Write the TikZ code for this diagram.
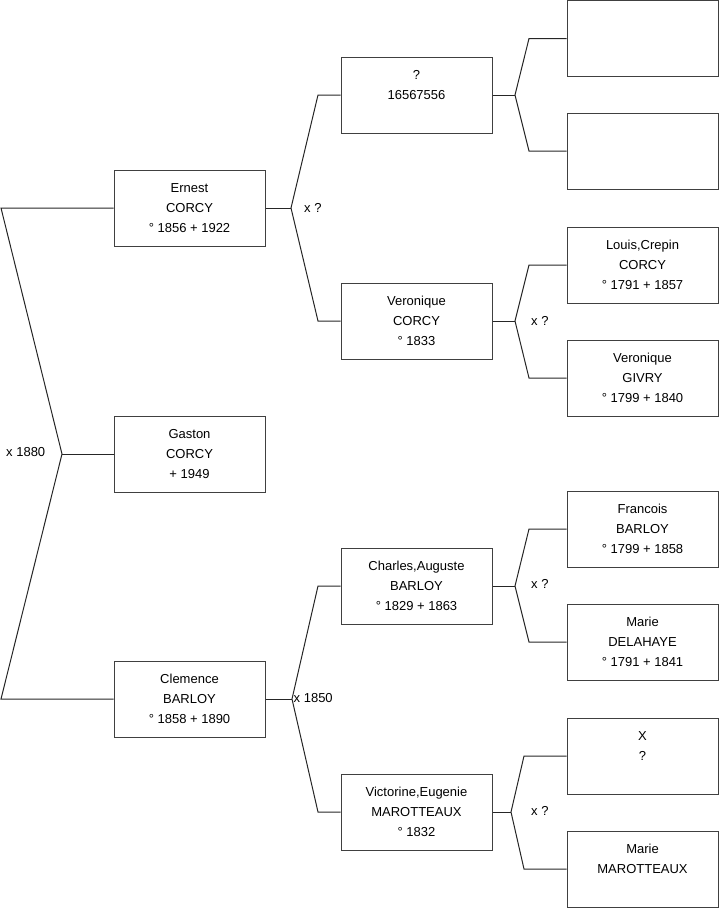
\documentclass[tikz,border=0pt]{standalone}
\usepackage{fontspec}
\setmainfont{Liberation Sans}
\begin{document}
\begin{tikzpicture}[x=1pt,y=-1pt,
  person/.style={draw=black!75, line width=1pt, fill=white, minimum width=151pt, minimum height=76pt,
     inner sep=0pt, align=center, font=\fontsize{13}{20}\selectfont},
  conn/.style={draw=black!85, line width=1pt},
  lbl/.style={anchor=west, inner sep=0pt, font=\fontsize{13}{20}\selectfont}]
\useasboundingbox (0,0) rectangle (719,908);
% column 1
\node[person] (ernest) at (189.5,208) {Ernest\\CORCY\\° 1856 + 1922};
\node[person] (gaston) at (189.5,454) {Gaston\\CORCY\\+ 1949};
\node[person] (clem) at (189.5,699) {Clemence\\BARLOY\\° 1858 + 1890};
% column 2
\node[person] (unk) at (416.5,95) {?\\16567556\\\mbox{}};
\node[person] (vero) at (416.5,321) {Veronique\\CORCY\\° 1833};
\node[person] (charles) at (416.5,586) {Charles,Auguste\\BARLOY\\° 1829 + 1863};
\node[person] (victo) at (416.5,812) {Victorine,Eugenie\\MAROTTEAUX\\° 1832};
% column 3
\node[person] (e1) at (642.5,38.5) {};
\node[person] (e2) at (642.5,151) {};
\node[person] (louis) at (642.5,265) {Louis,Crepin\\CORCY\\° 1791 + 1857};
\node[person] (vgivry) at (642.5,378) {Veronique\\GIVRY\\° 1799 + 1840};
\node[person] (francois) at (642.5,529) {Francois\\BARLOY\\° 1799 + 1858};
\node[person] (marie) at (642.5,642) {Marie\\DELAHAYE\\° 1791 + 1841};
\node[person] (xq) at (642.5,756) {X\\?\\\mbox{}};
\node[person] (mmar) at (642.5,869) {Marie\\MAROTTEAUX\\\mbox{}};
% junctions
\coordinate (a1) at (1,208);
\coordinate (a2) at (62,454);
\coordinate (a3) at (1,699);
\draw[conn] (ernest.west) -- (a1) -- (a2) -- (a3) -- (clem.west);
\draw[conn] (a2) -- (gaston.west);
\node[lbl] (m1880) at (6,452) {x 1880};
% Ernest
\coordinate (b0) at (291,208);
\coordinate (b1) at (318,95);
\coordinate (b2) at (318,321);
\draw[conn] (ernest.east) -- (b0);
\draw[conn] (unk.west) -- (b1) -- (b0) -- (b2) -- (vero.west);
\node[lbl] (mq1) at (304,208) {x ?};
% Clemence
\coordinate (c0) at (292,699);
\coordinate (c1) at (318,586);
\coordinate (c2) at (318,812);
\draw[conn] (clem.east) -- (c0);
\draw[conn] (charles.west) -- (c1) -- (c0) -- (c2) -- (victo.west);
\node[lbl] (m1850) at (293.5,698) {x 1850};
% unknown
\coordinate (d0) at (515,95);
\coordinate (d1) at (529,38.5);
\coordinate (d2) at (529,151);
\draw[conn] (unk.east) -- (d0);
\draw[conn] (e1.west) -- (d1) -- (d0) -- (d2) -- (e2.west);
% Veronique
\coordinate (f0) at (515,321);
\coordinate (f1) at (529,265);
\coordinate (f2) at (529,378);
\draw[conn] (vero.east) -- (f0);
\draw[conn] (louis.west) -- (f1) -- (f0) -- (f2) -- (vgivry.west);
\node[lbl] (mq2) at (531,321) {x ?};
% Charles
\coordinate (g0) at (515,586);
\coordinate (g1) at (529,529);
\coordinate (g2) at (529,642);
\draw[conn] (charles.east) -- (g0);
\draw[conn] (francois.west) -- (g1) -- (g0) -- (g2) -- (marie.west);
\node[lbl] (mq3) at (531,584) {x ?};
% Victorine
\coordinate (h0) at (511,812);
\coordinate (h1) at (524,756);
\coordinate (h2) at (524,869);
\draw[conn] (victo.east) -- (h0);
\draw[conn] (xq.west) -- (h1) -- (h0) -- (h2) -- (mmar.west);
\node[lbl] (mq4) at (531,811) {x ?};
\end{tikzpicture}
\end{document}
